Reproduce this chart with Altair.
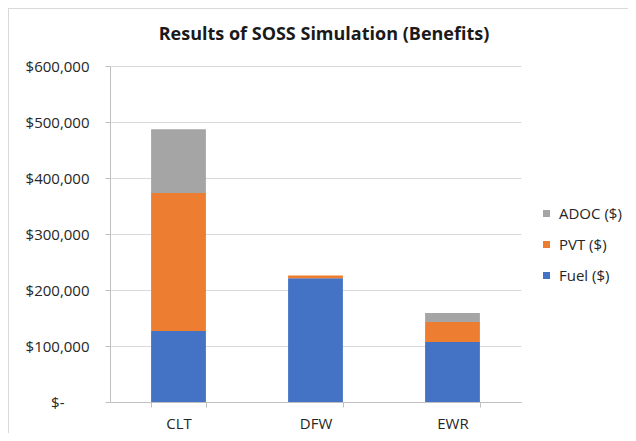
import altair as alt
import pandas as pd

airports = ["CLT", "DFW", "EWR"]
fuel = [127000, 221000, 107000]
pvt = [246000, 5000, 36000]
adoc = [114000, 0, 16000]

series_names = ["Fuel ($)", "PVT ($)", "ADOC ($)"]
series_colors = ["#4472C4", "#ED7D31", "#A5A5A5"]
y_ticks = [0, 100000, 200000, 300000, 400000, 500000, 600000]
title_text = "Results of SOSS Simulation (Benefits)"

rows = []
for i, a in enumerate(airports):
    for k, (name, vals) in enumerate(zip(series_names, [fuel, pvt, adoc])):
        rows.append({"airport": a, "series": name, "value": vals[i], "ord": k})
df = pd.DataFrame(rows)

legend_domain = list(reversed(series_names))
legend_range = list(reversed(series_colors))

FONT = "Open Sans"

bars = alt.Chart(df).mark_bar().encode(
    x=alt.X("airport:N", sort=airports, title=None,
            scale=alt.Scale(paddingInner=0.6, paddingOuter=0.3),
            axis=alt.Axis(labelAngle=0, tickBand="extent", labelPadding=9,
                          domainColor="#bfbfbf", tickColor="#bfbfbf", tickSize=5,
                          labelFontSize=15, labelColor="#262626", labelFont=FONT,
                          grid=False)),
    y=alt.Y("value:Q", stack="zero", title=None,
            scale=alt.Scale(domain=[0, 600000], nice=False),
            axis=alt.Axis(values=y_ticks, gridColor="#d9d9d9", domainColor="#bfbfbf",
                          tickColor="#bfbfbf", tickSize=5,
                          labelPadding={"condition": {"test": "datum.value == 0", "value": 41}, "value": 16},
                          labelFontSize=15, labelColor="#262626", labelFont=FONT,
                          labelExpr="datum.value == 0 ? '$-' : '$' + format(datum.value, ',')")),
    color=alt.Color("series:N",
                    scale=alt.Scale(domain=legend_domain, range=legend_range),
                    legend=alt.Legend(title=None, orient="none", legendX=429, legendY=140,
                                      symbolType="square", symbolSize=49, symbolStrokeWidth=0,
                                      labelFontSize=15, labelFont=FONT, labelColor="#262626",
                                      rowPadding=15, labelOffset=5, padding=0)),
    order=alt.Order("ord:Q", sort="ascending"),
)

frame = alt.Chart(df).mark_rect(fill=None, stroke="#d9d9d9", strokeWidth=1, clip=False).encode(
    x=alt.value(-101.5), x2=alt.value(700), y=alt.value(-57.5), y2=alt.value(500)
)

title = alt.Chart(pd.DataFrame({"t": [title_text]})).mark_text(
    font=FONT, fontSize=18, fontWeight="bold", color="#1a1a1a",
    align="center", baseline="middle"
).encode(text="t:N", x=alt.value(214), y=alt.value(-31))

chart = alt.layer(frame, bars, title).properties(
    width=411, height=336,
    padding={"left": 102, "top": 58, "right": 107, "bottom": 31},
    autosize=alt.AutoSizeParams(type="none"),
).configure_view(stroke=None)

chart.save("out.html", embed_options={"renderer": "svg", "actions": False})
